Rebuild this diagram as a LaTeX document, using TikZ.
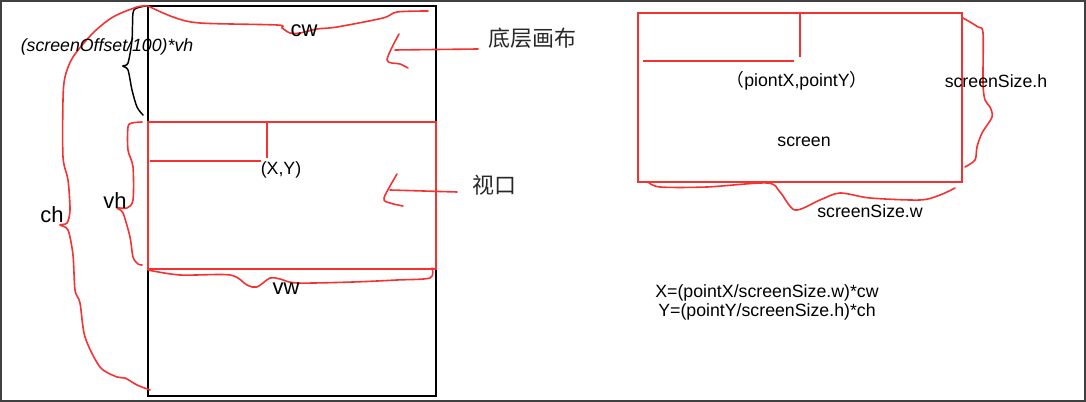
\documentclass[tikz,border=0pt]{standalone}
\usepackage{fontspec}
\setmainfont{Liberation Sans}
\newfontfamily\cjk{Noto Sans CJK SC}
\definecolor{pen}{RGB}{245,50,50}
\definecolor{framegray}{RGB}{64,64,64}
\definecolor{cjktext}{RGB}{40,40,40}
\begin{document}
\begin{tikzpicture}[x=0.75pt,y=-0.75pt,
  redbox/.style={draw=pen,line width=1.6pt},
  hand/.style={draw=pen,line width=1.2pt,line cap=round,line join=round},
  lbl/.style={anchor=base,inner sep=0pt,font=\fontsize{13.3}{15}\selectfont},
  biglbl/.style={anchor=base,inner sep=0pt,font=\fontsize{16.5}{18}\selectfont},
  cjklbl/.style={anchor=base,inner sep=0pt,text=cjktext,font=\cjk\fontsize{16.5}{18}\selectfont}]
\useasboundingbox (0,0) rectangle (1086,402);
\draw[framegray,line width=1.5pt] (1,1) rectangle (1085,401);

% canvas and viewport
\draw[black,line width=1.2pt] (148,6) rectangle (436,396);
\draw[redbox] (148,122) rectangle (436,269);
\draw[redbox] (267,123) -- (267,158);
\draw[redbox] (150,161) -- (261,161);

% braces
\draw[black,line width=1.1pt,line cap=round] plot[smooth,tension=0.5] coordinates
  {(146,6) (137,8) (133,13) (132,40) (128,63) (123,66) (128,70) (132,90) (137,107) (143,115)};
\draw[hand] plot[smooth,tension=0.5] coordinates
  {(147,6) (137,7) (113,17) (93,33) (73,57) (65,77) (63,100) (63,157) (68,180) (70,210) (67,223) (60,225) (68,230) (73,255) (75,290) (80,303) (85,337) (100,367) (117,377) (125,378) (137,385) (150,390)};
\draw[hand] plot[smooth,tension=0.5] coordinates
  {(148,6) (173,17) (200,23) (277,25) (282,28) (290,33) (300,33) (317,29) (337,27) (383,18) (397,12) (428,11)};
\draw[hand] plot[smooth,tension=0.5] coordinates
  {(142,122) (132,123) (128,127) (128,150) (133,167) (133,200) (127,208) (117,208) (123,213) (130,237) (133,257) (138,264) (142,265)};
\draw[hand] plot[smooth,tension=0.5] coordinates
  {(148,270) (180,275) (230,275) (247,285) (257,287) (270,278) (280,279) (297,283) (353,282) (397,280) (430,278) (432,268)};

% labels left
\node[lbl,font=\itshape\fontsize{13.3}{15}\selectfont] (offs) at (107,52) {(screenOffset/100)*vh};
\node[biglbl] (cw) at (304,37) {cw};
\node[biglbl] (vw) at (286,295) {vw};
\node[biglbl] (ch) at (52,223) {ch};
\node[biglbl] (vh) at (115,209) {vh};
\node[lbl] (xy) at (281,175) {(X,Y)};
\node[cjklbl] (dc) at (532,47) {底层画布};
\node[cjklbl] (vp) at (494,194) {视口};

% pointer arrows
\coordinate (dcstart) at (478,49);
\coordinate (dctip) at (395,50);
\coordinate (vpstart) at (457,192);
\coordinate (vptip) at (390,190);
\draw[hand] (dcstart) -- (dctip);
\draw[hand] plot[smooth,tension=0.5] coordinates {(399,34) (387,60) (400,64) (408,68)};
\draw[hand] (vpstart) -- (vptip);
\draw[hand] plot[smooth,tension=0.5] coordinates {(397,174) (384,198) (390,203) (403,206)};

% screen
\draw[redbox] (638,13) rectangle (962,182);
\draw[redbox] (800,13) -- (800,57);
\draw[redbox] (643,61) -- (794,61);
\draw[hand] plot[smooth,tension=0.5] coordinates
  {(963,18) (978,27) (983,33) (983,83) (985,100) (990,107) (992,117) (982,133) (977,147) (975,160) (965,167)};
\draw[hand] plot[smooth,tension=0.5] coordinates
  {(648,182) (660,187) (707,187) (767,183) (780,192) (795,210) (820,200) (840,193) (870,198) (920,200) (940,195) (955,188)};
\node[lbl] (pt) at (797,87) {{\cjk （}piontX,pointY{\cjk ）}};
\node[lbl] (scr) at (804,147) {screen};
\node[lbl] (ssh) at (996,88) {screenSize.h};
\node[lbl] (ssw) at (870,218) {screenSize.w};
\node[lbl,align=center,font=\fontsize{13.3}{14.3}\selectfont] (form) at (767,317)
  {X=(pointX/screenSize.w)*cw\\Y=(pointY/screenSize.h)*ch};
\end{tikzpicture}
\end{document}
